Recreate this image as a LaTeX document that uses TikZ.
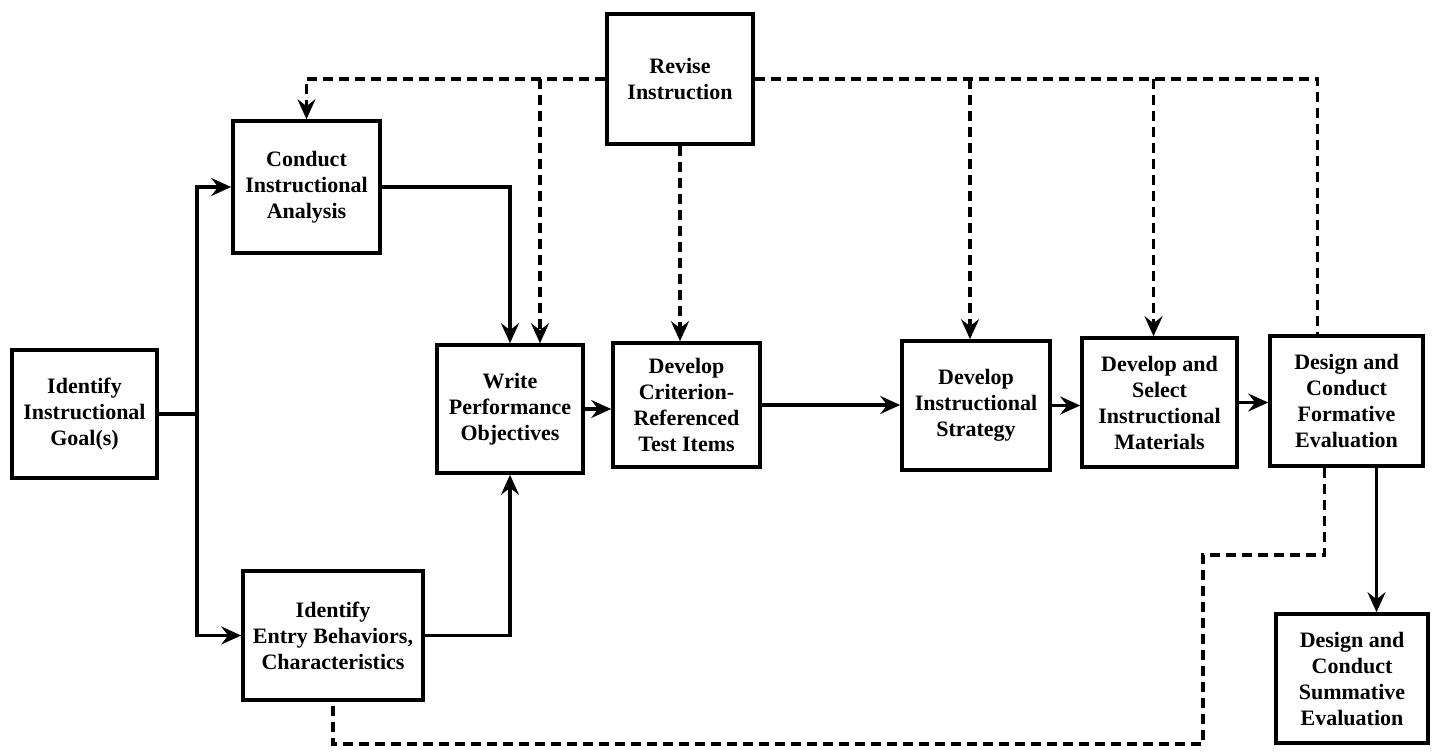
\documentclass[tikz,border=0pt]{standalone}
\usepackage{fontspec}
\setmainfont{Liberation Serif}
\usetikzlibrary{arrows.meta,calc}
\begin{document}
\begin{tikzpicture}[x=1pt,y=-1pt,
  box/.style={draw,line width=3.6pt,align=center,inner sep=0pt,fill=white,
    font=\fontsize{22}{26}\selectfont\bfseries},
  flow/.style={line width=3.2pt},
  arr/.style={-{Stealth[length=20pt,width=18pt,inset=7pt]}},
  fb/.style={line width=3.2pt,dash pattern=on 10pt off 6pt}]
\useasboundingbox (0,0) rectangle (1432,754);

% process boxes
\node[box,minimum width=145pt,minimum height=128pt] (goal) at (84.5,414) {Identify\\Instructional\\Goal(s)};
\node[box,minimum width=147pt,minimum height=132pt] (conduct) at (306.5,187) {Conduct\\Instructional\\Analysis};
\node[box,minimum width=180pt,minimum height=129pt] (entry) at (333,635.5) {Identify\\Entry Behaviors,\\Characteristics};
\node[box,minimum width=146pt,minimum height=128pt] (write) at (510,409) {Write\\Performance\\Objectives};
\node[box,minimum width=147pt,minimum height=124pt] (test) at (686.5,405) {Develop\\Criterion-\\Referenced\\Test Items};
\node[box,minimum width=146pt,minimum height=130pt] (revise) at (680,79) {Revise\\Instruction};
\node[box,minimum width=148pt,minimum height=129pt] (strategy) at (976,405.5) {Develop\\Instructional\\Strategy};
\node[box,minimum width=155pt,minimum height=129pt] (materials) at (1159.5,402.5) {Develop and\\Select\\Instructional\\Materials};
\node[box,minimum width=153pt,minimum height=130pt] (formative) at (1346.5,401) {Design and\\Conduct\\Formative\\Evaluation};
\node[box,minimum width=152pt,minimum height=129pt] (summative) at (1352,678.5) {Design and\\Conduct\\Summative\\Evaluation};

% goal splits into analysis and entry behaviours
\coordinate (trunk) at (197,414);
\draw[flow] (goal.east) -- (trunk);
\draw[flow,arr] (trunk) |- (conduct.west);
\draw[flow,arr] (trunk) |- (entry.west);
\draw[flow,arr] (conduct.east) -| (write.north);
\draw[flow,arr] (entry.east) -| (write.south);

% main sequence
\draw[flow,arr] (write.east) -- (write.east -| test.west);
\draw[flow,arr] (test.east) -- (test.east -| strategy.west);
\draw[flow,arr] (strategy.east) -- (strategy.east -| materials.west);
\draw[flow,arr] (materials.east) -- (materials.east -| formative.west);
\coordinate (fs) at ($(formative.south)+(30,0)$);
\draw[flow,arr] (fs) -- (fs |- summative.north);

% revision feedback
\coordinate (wtop) at ($(write.north)+(30,0)$);
\coordinate (stop) at ($(strategy.north)+(-6,0)$);
\coordinate (mtop) at ($(materials.north)+(-6,0)$);
\coordinate (ftop) at ($(formative.north)+(-29,0)$);
\draw[fb,arr] (revise.west) -| (conduct.north);
\draw[fb,arr] (revise.west -| wtop) -- (wtop);
\draw[fb,arr] (revise.south) -- (revise.south |- test.north);
\draw[fb] (revise.east) -| (ftop);
\draw[fb,arr] (revise.east -| stop) -- (stop);
\draw[fb,arr] (revise.east -| mtop) -- (mtop);

% formative evaluation back to entry behaviours
\coordinate (fd) at ($(formative.south)+(-22,0)$);
\coordinate (k1) at (1203,555);
\coordinate (k2) at (1203,744);
\draw[fb] (fd) |- (k1) -- (k2) -| (entry.south);
\end{tikzpicture}
\end{document}
